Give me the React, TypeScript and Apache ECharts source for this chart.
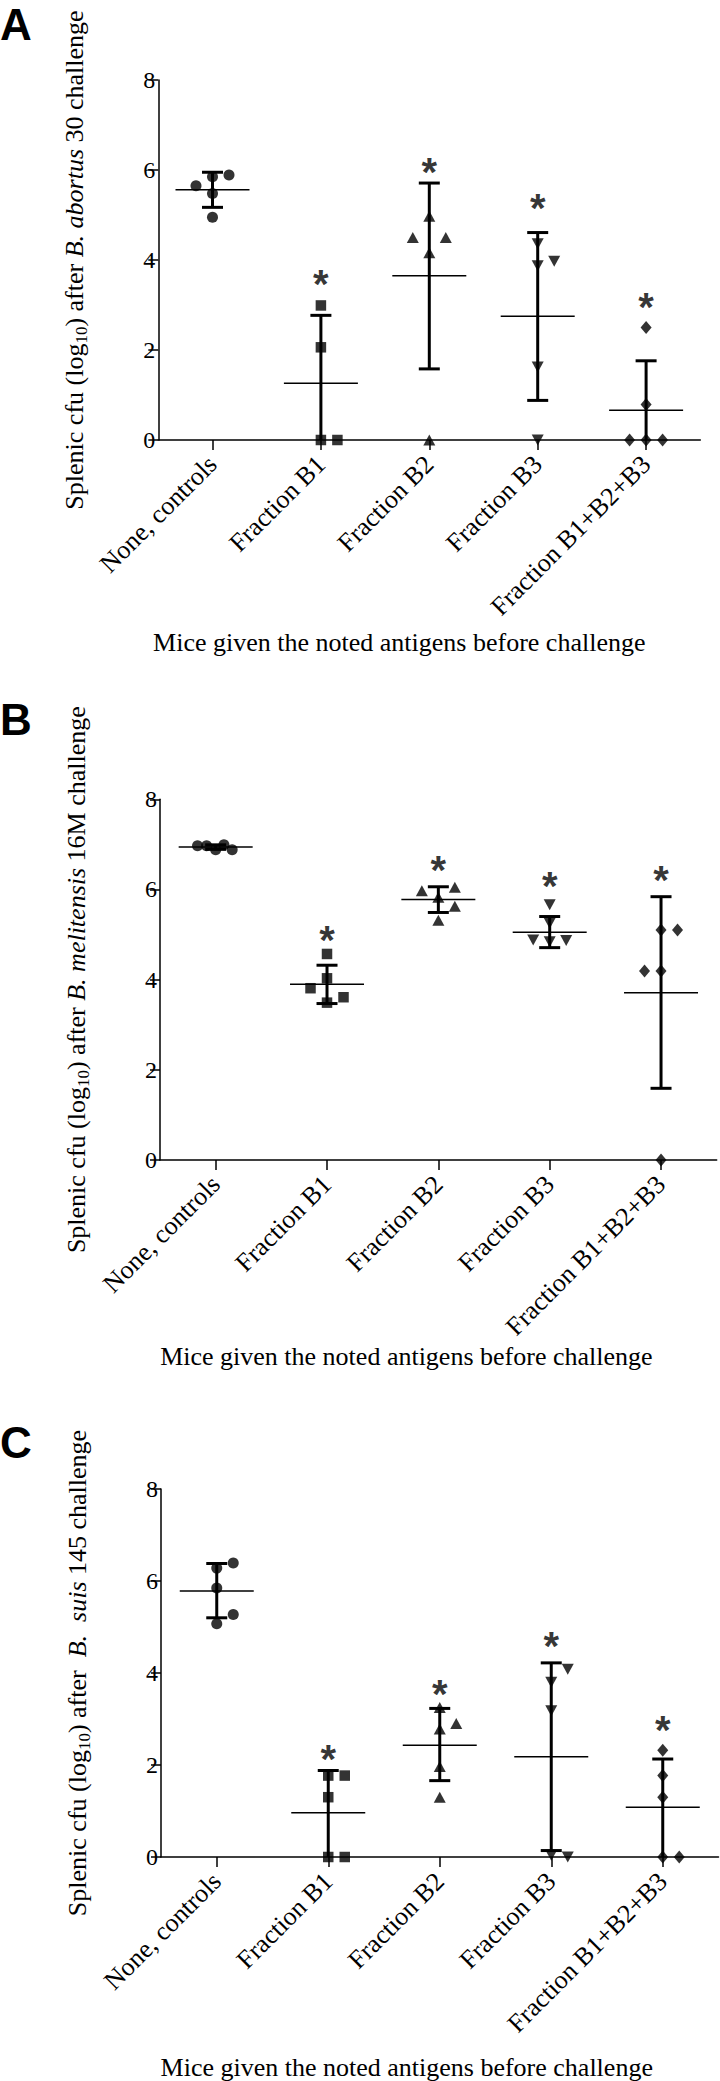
import React, { useEffect, useRef } from 'react';
import * as echarts from 'echarts';

// ---------- shared ----------
const categories = ['None, controls', 'Fraction B1', 'Fraction B2', 'Fraction B3', 'Fraction B1+B2+B3'];
const xTitle = 'Mice given the noted antigens before challenge';
const yMin = 0;
const yMax = 8;
const yStep = 2;

// ---------- Panel A : B. abortus 30 ----------
const aPoints = [
  [5.65, 5.85, 5.89, 5.48, 4.95],
  [2.99, 2.06, 0, 0],
  [4.97, 4.5, 4.5, 4.16, 0],
  [4.36, 3.97, 3.87, 1.62, 0],
  [2.5, 0.79, 0, 0, 0],
];
const aJitter = [
  [-1, 0, 1, 0, 0],
  [0, 0, 0, 1],
  [0, -1, 1, 0, 0],
  [0, 1, 0, 0, 0],
  [0, 0, -1, 0, 1],
];
const aMean = [5.56, 1.26, 3.65, 2.75, 0.66];
const aLow = [5.17, 0, 1.58, 0.88, 0];
const aHigh = [5.95, 2.77, 5.71, 4.61, 1.76];
const aStars = [null, 3.7, 6.18, 5.37, 3.18];

// ---------- Panel B : B. melitensis 16M ----------
const bPoints = [
  [6.97, 6.97, 6.88, 6.99, 6.88],
  [4.57, 4.03, 3.81, 3.61, 3.49],
  [5.97, 6.05, 5.83, 5.63, 5.32],
  [5.66, 5.25, 4.88, 4.84, 4.87],
  [5.1, 5.1, 4.19, 4.19, 0],
];
const bJitter = [
  [-1.1, -0.55, 0, 0.5, 1],
  [0, 0, -1, 1, 0],
  [-1, 1, 0, 1, 0],
  [0, 0, -1, 0, 1],
  [0, 1, -1, 0, 0],
];
const bMean = [6.94, 3.9, 5.78, 5.05, 3.71];
const bLow = [6.89, 3.47, 5.49, 4.71, 1.59];
const bHigh = [6.99, 4.32, 6.06, 5.4, 5.84];
const bStars = [null, 5.11, 6.65, 6.3, 6.43];

// ---------- Panel C : B. suis 145 ----------
const cPoints = [
  [6.39, 6.28, 5.85, 5.27, 5.07],
  [1.77, 1.77, 1.3, 0, 0],
  [3.25, 2.9, 2.78, 1.97, 1.3],
  [4.08, 3.8, 3.18, 0.04, 0],
  [2.32, 1.77, 1.3, 0, 0],
];
const cJitter = [
  [1, 0, 0, 1, 0],
  [0, 1, 0, 0, 1],
  [0, 1, 0, 0, 0],
  [1, 0, 0, 0, 1],
  [0, 0, 0, 0, 1],
];
const cMean = [5.78, 0.96, 2.43, 2.18, 1.08];
const cLow = [5.2, 0, 1.66, 0.14, 0];
const cHigh = [6.38, 1.88, 3.23, 4.22, 2.13];
const cStars = [null, 2.35, 3.76, 4.8, 2.97];

const yNames = [
  '{n|Splenic cfu (log}{s|10}{n|) after }{i|B. abortus}{n| 30 challenge}',
  '{n|Splenic cfu (log}{s|10}{n|) after }{i|B. melitensis}{n| 16M challenge}',
  '{n|Splenic cfu (log}{s|10}{n|) after\u00a0 }{i|B.\u00a0 suis}{n| 145 challenge}',
];
const panelLetters = ['A', 'B', 'C'];

// ---------- styling ----------
const SERIF = '"Liberation Serif", "Times New Roman", serif';
const SANS = '"Liberation Sans", Arial, sans-serif';
const JIT = 16.5;
const symbols = ['circle', 'rect', 'triangle', 'triangle', 'diamond'];
const symbolRotates = [0, 0, 0, 180, 0];
const symbolSizes: any[] = [11, 10.5, [12, 11], [12, 11], [11, 13]];

const grids = [
  { left: 158.3, width: 542, top: 80, height: 360 },
  { left: 160, width: 556.7, top: 799.3, height: 360.7 },
  { left: 161, width: 557.5, top: 1489, height: 369.3 },
];
const xNameGaps = [189, 172, 197];
const xNamePads = [60, 64, 66];
const letterTops = [2, 697, 1420];

function buildOption() {
  const panels = [
    { pts: aPoints, jit: aJitter, mean: aMean, low: aLow, high: aHigh, stars: aStars },
    { pts: bPoints, jit: bJitter, mean: bMean, low: bLow, high: bHigh, stars: bStars },
    { pts: cPoints, jit: cJitter, mean: cMean, low: cLow, high: cHigh, stars: cStars },
  ];
  const series: any[] = [];
  panels.forEach((p, gi) => {
    series.push({
      type: 'custom',
      xAxisIndex: gi,
      yAxisIndex: gi,
      z: 2,
      clip: false,
      data: p.mean.map((m, i) => [i, m, p.low[i], p.high[i]]),
      encode: { x: 0, y: [1, 2, 3] },
      renderItem: (params: any, api: any) => {
        const idx = api.value(0);
        const pm = api.coord([idx, api.value(1)]);
        const pl = api.coord([idx, api.value(2)]);
        const ph = api.coord([idx, api.value(3)]);
        const cx = pm[0];
        const st = { stroke: '#000', lineWidth: 3 };
        const children: any[] = [
          { type: 'line', shape: { x1: cx - 37, y1: pm[1], x2: cx + 37, y2: pm[1] }, style: { stroke: '#000', lineWidth: 1.5 } },
          { type: 'line', shape: { x1: cx, y1: ph[1], x2: cx, y2: pl[1] }, style: st },
          { type: 'line', shape: { x1: cx - 10.5, y1: ph[1], x2: cx + 10.5, y2: ph[1] }, style: st },
        ];
        if (api.value(2) > 0) {
          children.push({ type: 'line', shape: { x1: cx - 10.5, y1: pl[1], x2: cx + 10.5, y2: pl[1] }, style: st });
        }
        return { type: 'group', children };
      },
    });
    p.pts.forEach((vals, ci) => {
      series.push({
        type: 'scatter',
        xAxisIndex: gi,
        yAxisIndex: gi,
        z: 3,
        clip: false,
        symbol: symbols[ci],
        symbolRotate: symbolRotates[ci],
        symbolSize: symbolSizes[ci],
        itemStyle: { color: '#000' },
        data: vals.map((v, k) => ({ value: [ci, v], symbolOffset: [p.jit[ci][k] * JIT, 0] })),
      });
    });
    series.push({
      type: 'scatter',
      xAxisIndex: gi,
      yAxisIndex: gi,
      z: 4,
      clip: false,
      symbol: 'circle',
      symbolSize: 1,
      itemStyle: { color: 'rgba(0,0,0,0)' },
      label: {
        show: true,
        position: 'inside',
        formatter: '*',
        fontSize: 40,
        fontWeight: 'bold',
        fontFamily: SANS,
        color: '#000',
        offset: [0, 10],
      },
      data: p.stars.map((s, i) => (s == null ? null : [i, s])).filter((d) => d != null),
    });
  });

  return {
    animation: false,
    backgroundColor: '#fff',
    grid: grids.map((g) => ({ ...g, containLabel: false })),
    xAxis: grids.map((g, gi) => ({
      type: 'category',
      gridIndex: gi,
      data: categories,
      boundaryGap: true,
      axisLine: { lineStyle: { color: '#000', width: 1.5 } },
      axisTick: { show: true, alignWithLabel: true, length: 10, lineStyle: { color: '#000', width: 1.5 } },
      axisLabel: { rotate: 45, interval: 0, fontSize: 26, fontFamily: SERIF, color: '#000', margin: 20 },
      splitLine: { show: false },
      name: xTitle,
      nameLocation: 'middle',
      nameGap: xNameGaps[gi],
      nameTextStyle: { fontSize: 26, fontFamily: SERIF, color: '#000', padding: [0, xNamePads[gi], 0, 0] },
    })),
    yAxis: grids.map((g, gi) => ({
      type: 'value',
      gridIndex: gi,
      min: yMin,
      max: yMax,
      interval: yStep,
      axisLine: { show: true, lineStyle: { color: '#000', width: 1.5 } },
      axisTick: { show: true, length: 10, lineStyle: { color: '#000', width: 1.5 } },
      axisLabel: { fontSize: 24, fontFamily: SERIF, color: '#000', margin: 3 },
      splitLine: { show: false },
      name: yNames[gi],
      nameLocation: 'middle',
      nameRotate: 90,
      nameGap: 68,
      nameTextStyle: {
        fontSize: 26,
        fontFamily: SERIF,
        color: '#000',
        rich: {
          n: { fontSize: 26, fontFamily: SERIF, color: '#000' },
          i: { fontSize: 26, fontFamily: SERIF, fontStyle: 'italic', color: '#000' },
          s: { fontSize: 17, fontFamily: SERIF, color: '#000', verticalAlign: 'bottom', padding: [14, 0, 0, 0] },
        },
      },
    })),
    graphic: panelLetters.map((t, i) => ({
      type: 'text',
      left: 0,
      top: letterTops[i],
      style: { text: t, font: `bold 44px ${SANS}`, fill: '#000' },
    })),
    series,
  };
}

export default function App() {
  const ref = useRef<HTMLDivElement>(null);
  useEffect(() => {
    document.body.style.margin = '0';
    if (!ref.current) return;
    const chart = echarts.init(ref.current, undefined, { renderer: 'svg' });
    chart.setOption(buildOption() as any);
    return () => chart.dispose();
  }, []);
  return <div ref={ref} style={{ width: 720, height: 2081, background: '#fff' }} />;
}
